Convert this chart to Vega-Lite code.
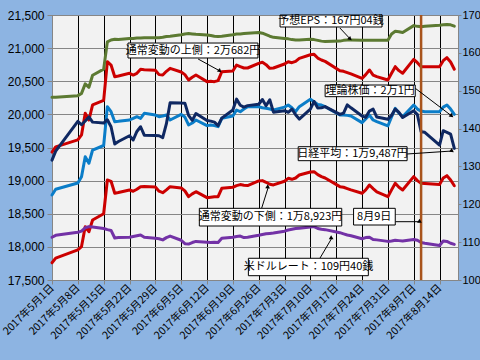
{
  "$schema": "https://vega.github.io/schema/vega-lite/v6.json",
  "width": 406,
  "height": 265,
  "autosize": {"type": "none"},
  "padding": {"left": 52, "top": 15, "right": 22, "bottom": 80},
  "background": "#8DB4E2",
  "config": {
    "view": {"fill": "#F2F2F2", "stroke": null},
    "line": {"strokeWidth": 3, "strokeJoin": "round", "strokeCap": "round"}
  },
  "datasets": {
    "main": [
      {"date": "2017/05/01", "nk": 19310, "th": 18783, "up": 19430, "lo": 17760, "eps": 148.3, "usd": 111.3},
      {"date": "2017/05/02", "nk": 19445, "th": 18870, "up": 19510, "lo": 17830, "eps": 148.3, "usd": 111.8},
      {"date": "2017/05/08", "nk": 19895, "th": 18965, "up": 19615, "lo": 17955, "eps": 148.7, "usd": 112.6},
      {"date": "2017/05/09", "nk": 19843, "th": 19060, "up": 19690, "lo": 18005, "eps": 149.3, "usd": 112.9},
      {"date": "2017/05/10", "nk": 19900, "th": 19361, "up": 20016, "lo": 18305, "eps": 151.8, "usd": 113.8},
      {"date": "2017/05/11", "nk": 19961, "th": 19262, "up": 19915, "lo": 18229, "eps": 150.9, "usd": 114.1},
      {"date": "2017/05/12", "nk": 19883, "th": 19462, "up": 20142, "lo": 18406, "eps": 154.1, "usd": 114.0},
      {"date": "2017/05/15", "nk": 19869, "th": 19530, "up": 20210, "lo": 18500, "eps": 155.7, "usd": 113.6},
      {"date": "2017/05/16", "nk": 19919, "th": 20116, "up": 20795, "lo": 19010, "eps": 162.9, "usd": 113.3},
      {"date": "2017/05/17", "nk": 19814, "th": 20041, "up": 20745, "lo": 18990, "eps": 163.4, "usd": 113.1},
      {"date": "2017/05/18", "nk": 19553, "th": 19890, "up": 20569, "lo": 18809, "eps": 163.6, "usd": 111.1},
      {"date": "2017/05/19", "nk": 19590, "th": 19895, "up": 20580, "lo": 18820, "eps": 163.5, "usd": 111.2},
      {"date": "2017/05/22", "nk": 19678, "th": 19915, "up": 20620, "lo": 18859, "eps": 163.8, "usd": 111.3},
      {"date": "2017/05/23", "nk": 19613, "th": 19940, "up": 20594, "lo": 18840, "eps": 163.8, "usd": 111.5},
      {"date": "2017/05/24", "nk": 19742, "th": 19965, "up": 20620, "lo": 18870, "eps": 163.9, "usd": 111.7},
      {"date": "2017/05/25", "nk": 19813, "th": 19940, "up": 20680, "lo": 18909, "eps": 163.9, "usd": 111.9},
      {"date": "2017/05/26", "nk": 19686, "th": 20016, "up": 20675, "lo": 18910, "eps": 164.0, "usd": 111.3},
      {"date": "2017/05/29", "nk": 19682, "th": 19990, "up": 20665, "lo": 18905, "eps": 164.0, "usd": 111.0},
      {"date": "2017/05/30", "nk": 19677, "th": 19965, "up": 20600, "lo": 18840, "eps": 164.0, "usd": 110.9},
      {"date": "2017/05/31", "nk": 19650, "th": 19975, "up": 20594, "lo": 18818, "eps": 164.1, "usd": 110.6},
      {"date": "2017/06/01", "nk": 19860, "th": 19990, "up": 20650, "lo": 18860, "eps": 164.3, "usd": 111.2},
      {"date": "2017/06/02", "nk": 20177, "th": 19915, "up": 20695, "lo": 18909, "eps": 164.4, "usd": 111.6},
      {"date": "2017/06/05", "nk": 20170, "th": 20000, "up": 20640, "lo": 18890, "eps": 164.8, "usd": 110.5},
      {"date": "2017/06/06", "nk": 20169, "th": 19960, "up": 20600, "lo": 18845, "eps": 165.0, "usd": 109.6},
      {"date": "2017/06/07", "nk": 19984, "th": 19840, "up": 20519, "lo": 18758, "eps": 165.1, "usd": 109.5},
      {"date": "2017/06/08", "nk": 19909, "th": 19870, "up": 20560, "lo": 18800, "eps": 165.0, "usd": 109.9},
      {"date": "2017/06/09", "nk": 20013, "th": 19915, "up": 20594, "lo": 18833, "eps": 164.9, "usd": 110.2},
      {"date": "2017/06/12", "nk": 19908, "th": 19830, "up": 20494, "lo": 18743, "eps": 164.7, "usd": 110.0},
      {"date": "2017/06/13", "nk": 19898, "th": 19840, "up": 20500, "lo": 18750, "eps": 164.6, "usd": 109.9},
      {"date": "2017/06/14", "nk": 19883, "th": 19830, "up": 20494, "lo": 18758, "eps": 164.4, "usd": 110.0},
      {"date": "2017/06/15", "nk": 19831, "th": 19815, "up": 20510, "lo": 18758, "eps": 164.3, "usd": 109.9},
      {"date": "2017/06/16", "nk": 19943, "th": 19941, "up": 20644, "lo": 18884, "eps": 164.4, "usd": 111.0},
      {"date": "2017/06/19", "nk": 20067, "th": 19975, "up": 20655, "lo": 18900, "eps": 164.8, "usd": 111.3},
      {"date": "2017/06/20", "nk": 20230, "th": 20066, "up": 20745, "lo": 18924, "eps": 165.0, "usd": 111.5},
      {"date": "2017/06/21", "nk": 20138, "th": 20040, "up": 20720, "lo": 18940, "eps": 165.0, "usd": 111.6},
      {"date": "2017/06/22", "nk": 20110, "th": 20080, "up": 20700, "lo": 18930, "eps": 165.1, "usd": 111.2},
      {"date": "2017/06/23", "nk": 20132, "th": 20116, "up": 20700, "lo": 18925, "eps": 165.2, "usd": 111.3},
      {"date": "2017/06/26", "nk": 20153, "th": 20116, "up": 20770, "lo": 18995, "eps": 165.4, "usd": 111.8},
      {"date": "2017/06/27", "nk": 20225, "th": 20100, "up": 20786, "lo": 19000, "eps": 165.2, "usd": 112.0},
      {"date": "2017/06/28", "nk": 20130, "th": 20091, "up": 20750, "lo": 18975, "eps": 164.8, "usd": 112.2},
      {"date": "2017/06/29", "nk": 20220, "th": 20080, "up": 20695, "lo": 18945, "eps": 164.4, "usd": 112.3},
      {"date": "2017/06/30", "nk": 20033, "th": 20066, "up": 20700, "lo": 18935, "eps": 164.1, "usd": 112.4},
      {"date": "2017/07/03", "nk": 20055, "th": 20110, "up": 20760, "lo": 18990, "eps": 163.8, "usd": 112.9},
      {"date": "2017/07/04", "nk": 20032, "th": 20142, "up": 20795, "lo": 19035, "eps": 163.7, "usd": 113.2},
      {"date": "2017/07/05", "nk": 20081, "th": 20100, "up": 20780, "lo": 19020, "eps": 163.5, "usd": 113.4},
      {"date": "2017/07/06", "nk": 19994, "th": 20041, "up": 20800, "lo": 19040, "eps": 163.4, "usd": 113.6},
      {"date": "2017/07/07", "nk": 19929, "th": 20116, "up": 20846, "lo": 19085, "eps": 163.4, "usd": 113.7},
      {"date": "2017/07/10", "nk": 20080, "th": 20227, "up": 20900, "lo": 19130, "eps": 163.6, "usd": 114.0},
      {"date": "2017/07/11", "nk": 20195, "th": 20190, "up": 20906, "lo": 19135, "eps": 163.5, "usd": 114.1},
      {"date": "2017/07/12", "nk": 20098, "th": 20150, "up": 20850, "lo": 19090, "eps": 163.3, "usd": 113.6},
      {"date": "2017/07/13", "nk": 20099, "th": 20140, "up": 20821, "lo": 19060, "eps": 163.1, "usd": 113.4},
      {"date": "2017/07/14", "nk": 20118, "th": 20116, "up": 20800, "lo": 19040, "eps": 163.0, "usd": 113.3},
      {"date": "2017/07/18", "nk": 20000, "th": 19990, "up": 20660, "lo": 18909, "eps": 163.1, "usd": 112.5},
      {"date": "2017/07/19", "nk": 20020, "th": 19990, "up": 20650, "lo": 18900, "eps": 163.3, "usd": 112.2},
      {"date": "2017/07/20", "nk": 20144, "th": 19985, "up": 20630, "lo": 18880, "eps": 163.4, "usd": 111.9},
      {"date": "2017/07/21", "nk": 20099, "th": 19975, "up": 20610, "lo": 18860, "eps": 163.4, "usd": 111.7},
      {"date": "2017/07/24", "nk": 19975, "th": 19875, "up": 20544, "lo": 18809, "eps": 163.3, "usd": 110.9},
      {"date": "2017/07/25", "nk": 19955, "th": 19930, "up": 20600, "lo": 18860, "eps": 163.3, "usd": 111.2},
      {"date": "2017/07/26", "nk": 20050, "th": 19990, "up": 20670, "lo": 18934, "eps": 163.3, "usd": 111.3},
      {"date": "2017/07/27", "nk": 20079, "th": 19915, "up": 20594, "lo": 18880, "eps": 163.3, "usd": 110.7},
      {"date": "2017/07/28", "nk": 19959, "th": 19890, "up": 20570, "lo": 18830, "eps": 163.3, "usd": 110.6},
      {"date": "2017/07/31", "nk": 19925, "th": 19825, "up": 20519, "lo": 18758, "eps": 163.3, "usd": 110.2},
      {"date": "2017/08/01", "nk": 19985, "th": 19960, "up": 20620, "lo": 18860, "eps": 165.0, "usd": 110.3},
      {"date": "2017/08/02", "nk": 20080, "th": 20091, "up": 20720, "lo": 18959, "eps": 165.7, "usd": 110.5},
      {"date": "2017/08/03", "nk": 20029, "th": 20020, "up": 20660, "lo": 18900, "eps": 165.6, "usd": 110.4},
      {"date": "2017/08/04", "nk": 19952, "th": 19965, "up": 20620, "lo": 18859, "eps": 165.4, "usd": 110.3},
      {"date": "2017/08/07", "nk": 20055, "th": 20142, "up": 20831, "lo": 19060, "eps": 167.2, "usd": 110.7},
      {"date": "2017/08/08", "nk": 19996, "th": 20080, "up": 20780, "lo": 19000, "eps": 167.0, "usd": 110.5},
      {"date": "2017/08/09", "nk": 19738, "th": 20050, "up": 20720, "lo": 18959, "eps": 166.9, "usd": 109.9},
      {"date": "2017/08/10", "nk": 19729, "th": 20041, "up": 20720, "lo": 18955, "eps": 167.0, "usd": 109.7},
      {"date": "2017/08/14", "nk": 19537, "th": 20041, "up": 20720, "lo": 18940, "eps": 167.3, "usd": 109.1},
      {"date": "2017/08/15", "nk": 19753, "th": 20110, "up": 20810, "lo": 19040, "eps": 167.4, "usd": 110.3},
      {"date": "2017/08/16", "nk": 19729, "th": 20142, "up": 20856, "lo": 19075, "eps": 167.5, "usd": 110.2},
      {"date": "2017/08/17", "nk": 19702, "th": 20080, "up": 20790, "lo": 19010, "eps": 167.4, "usd": 109.7},
      {"date": "2017/08/18", "nk": 19487, "th": 20001, "up": 20682, "lo": 18923, "eps": 167.04, "usd": 109.4}
    ],
    "notes": [
      {"label": "予想EPS：167円04銭", "tx": "2017/07/15 14:00", "ty": 21410, "bx1": "2017/07/01 19:00", "bx2": "2017/07/29 10:00", "by1": 21319, "by2": 21500, "ax1": "2017/07/18 00:00", "ay1": 21304, "ax2": "2017/07/20 19:00", "ay2": 21138},
      {"label": "通常変動の上側：2万682円", "tx": "2017/06/08 05:00", "ty": 20960, "bx1": "2017/05/21 14:00", "bx2": "2017/06/25 19:00", "by1": 20851, "by2": 21077, "ax1": "2017/06/09 14:00", "ay1": 20836, "ax2": "2017/06/15 12:00", "ay2": 20655},
      {"label": "理論株価：2万1円", "tx": "2017/07/26 05:00", "ty": 20356, "bx1": "2017/07/14 00:00", "bx2": "2017/08/07 10:00", "by1": 20267, "by2": 20443, "ax1": "2017/08/07 10:00", "ay1": 20394, "ax2": "2017/08/17 07:00", "ay2": 19976},
      {"label": "日経平均：1万9,487円", "tx": "2017/07/21 10:00", "ty": 19406, "bx1": "2017/07/06 17:00", "bx2": "2017/08/05 05:00", "by1": 19301, "by2": 19512, "ax1": "2017/08/05 05:00", "ay1": 19402, "ax2": "2017/08/17 10:00", "ay2": 19447},
      {"label": "通常変動の下側：1万8,923円", "tx": "2017/06/29 05:00", "ty": 18448, "bx1": "2017/06/09 22:00", "bx2": "2017/07/18 12:00", "by1": 18315, "by2": 18582, "ax1": "2017/06/26 19:00", "ay1": 18582, "ax2": "2017/06/28 14:00", "ay2": 18899},
      {"label": "8月9日", "tx": "2017/07/27 07:00", "ty": 18456, "bx1": "2017/07/21 17:00", "bx2": "2017/08/02 00:00", "by1": 18330, "by2": 18582, "ax1": "2017/08/02 00:00", "ay1": 18380, "ax2": "2017/08/08 17:00", "ay2": 18380},
      {"label": "米ドルレート：109円40銭", "tx": "2017/07/09 12:00", "ty": 17696, "bx1": "2017/06/23 05:00", "bx2": "2017/07/25 17:00", "by1": 17565, "by2": 17828, "ax1": "2017/07/12 14:00", "ay1": 17828, "ax2": "2017/07/15 19:00", "ay2": 18130}
    ]
  },
  "layer": [
    {
      "data": {"name": "main"},
      "transform": [{"fold": ["up", "lo", "th", "nk"], "as": ["series", "value"]}],
      "mark": {"type": "line"},
      "encoding": {
        "x": {
          "field": "date", "type": "temporal",
          "scale": {"domain": [{"year": 2017, "month": 5, "date": 1}, {"year": 2017, "month": 8, "date": 19}]},
          "axis": {
            "title": null,
            "values": [
              {"year": 2017, "month": 5, "date": 1}, {"year": 2017, "month": 5, "date": 8}, {"year": 2017, "month": 5, "date": 15}, {"year": 2017, "month": 5, "date": 22}, {"year": 2017, "month": 5, "date": 29},
              {"year": 2017, "month": 6, "date": 5}, {"year": 2017, "month": 6, "date": 12}, {"year": 2017, "month": 6, "date": 19}, {"year": 2017, "month": 6, "date": 26},
              {"year": 2017, "month": 7, "date": 3}, {"year": 2017, "month": 7, "date": 10}, {"year": 2017, "month": 7, "date": 17}, {"year": 2017, "month": 7, "date": 24}, {"year": 2017, "month": 7, "date": 31},
              {"year": 2017, "month": 8, "date": 7}, {"year": 2017, "month": 8, "date": 14}
            ],
            "format": "%Y年%-m月%-d日",
            "labelAngle": -45, "labelAlign": "right", "labelBaseline": "middle",
            "labelFont": "Noto Sans CJK JP", "labelFontSize": 10.5, "labelColor": "#000000",
            "labelPadding": 2, "labelOverlap": false, "labelFlush": false, "labelBound": false,
            "grid": true, "gridColor": "#000000", "gridWidth": 1,
            "domainColor": "#868686", "tickColor": "#868686", "tickSize": 4
          }
        },
        "y": {
          "field": "value", "type": "quantitative",
          "scale": {"domain": [17500, 21500], "nice": false, "zero": false},
          "axis": {
            "title": null,
            "values": [17500, 18000, 18500, 19000, 19500, 20000, 20500, 21000, 21500],
            "format": ",d",
            "labelFont": "Liberation Sans", "labelFontSize": 12, "labelColor": "#000000",
            "labelPadding": 3, "tickSize": 5,
            "grid": true, "gridColor": "#868686", "gridWidth": 1,
            "domainColor": "#868686", "tickColor": "#868686"
          }
        },
        "color": {
          "field": "series", "type": "nominal",
          "scale": {"domain": ["up", "lo", "th", "nk"], "range": ["#CC0000", "#CC0000", "#0B7DC8", "#0F2862"]},
          "legend": null
        }
      }
    },
    {
      "data": {"name": "main"},
      "transform": [{"fold": ["eps", "usd"], "as": ["series", "value"]}],
      "mark": {"type": "line"},
      "encoding": {
        "x": {
          "field": "date", "type": "temporal",
          "scale": {"domain": [{"year": 2017, "month": 5, "date": 1}, {"year": 2017, "month": 8, "date": 19}]},
          "axis": null
        },
        "y": {
          "field": "value", "type": "quantitative",
          "scale": {"domain": [100, 170], "nice": false, "zero": false},
          "axis": {
            "orient": "right", "title": null,
            "values": [100, 110, 120, 130, 140, 150, 160, 170],
            "labelFont": "Liberation Sans", "labelFontSize": 11, "labelColor": "#000000",
            "labelPadding": 1, "tickSize": 3, "grid": false,
            "domainColor": "#868686", "tickColor": "#868686"
          }
        },
        "color": {
          "field": "series", "type": "nominal",
          "scale": {"domain": ["eps", "usd"], "range": ["#5C7A32", "#7332A6"]},
          "legend": null
        }
      }
    },
    {
      "layer": [
        {
          "data": {"values": [{"date": "2017/08/09"}]},
          "mark": {"type": "rule", "color": "#A8541C", "strokeWidth": 2.5},
          "encoding": {
            "x": {"field": "date", "type": "temporal", "scale": {"domain": [{"year": 2017, "month": 5, "date": 1}, {"year": 2017, "month": 8, "date": 19}]}, "axis": null}
          }
        },
        {
          "data": {"name": "notes"},
          "mark": {"type": "rule", "color": "#000000", "strokeWidth": 1},
          "encoding": {
            "x": {"field": "ax1", "type": "temporal", "scale": {"domain": [{"year": 2017, "month": 5, "date": 1}, {"year": 2017, "month": 8, "date": 19}]}, "axis": null},
            "x2": {"field": "ax2"},
            "y": {"field": "ay1", "type": "quantitative", "scale": {"domain": [17500, 21500], "nice": false, "zero": false}, "axis": null},
            "y2": {"field": "ay2"}
          }
        },
        {
          "data": {"name": "notes"},
          "mark": {"type": "rect", "fill": "#FFFFFF", "stroke": "#000000", "strokeWidth": 1},
          "encoding": {
            "x": {"field": "bx1", "type": "temporal", "axis": null},
            "x2": {"field": "bx2"},
            "y": {"field": "by1", "type": "quantitative", "axis": null},
            "y2": {"field": "by2"}
          }
        },
        {
          "data": {"name": "notes"},
          "mark": {"type": "text", "font": "Noto Sans CJK JP", "fontSize": 11, "color": "#000000", "align": "center", "baseline": "middle"},
          "encoding": {
            "x": {"field": "tx", "type": "temporal", "axis": null},
            "y": {"field": "ty", "type": "quantitative", "axis": null},
            "text": {"field": "label"}
          }
        },
        {
          "data": {"name": "notes"},
          "mark": {"type": "point", "shape": "triangle-up", "filled": true, "color": "#000000", "size": 22, "opacity": 1},
          "encoding": {
            "x": {"field": "ax2", "type": "temporal", "axis": null},
            "y": {"field": "ay2", "type": "quantitative", "axis": null},
            "angle": {
              "field": "label", "type": "nominal",
              "scale": {
                "domain": ["予想EPS：167円04銭", "通常変動の上側：2万682円", "理論株価：2万1円", "日経平均：1万9,487円", "通常変動の下側：1万8,923円", "8月9日", "米ドルレート：109円40銭"],
                "range": [132, 119, 127, 86, 17, 90, 30]
              },
              "legend": null
            }
          }
        }
      ]
    }
  ],
  "resolve": {"scale": {"x": "independent", "y": "independent", "color": "independent"}}
}
